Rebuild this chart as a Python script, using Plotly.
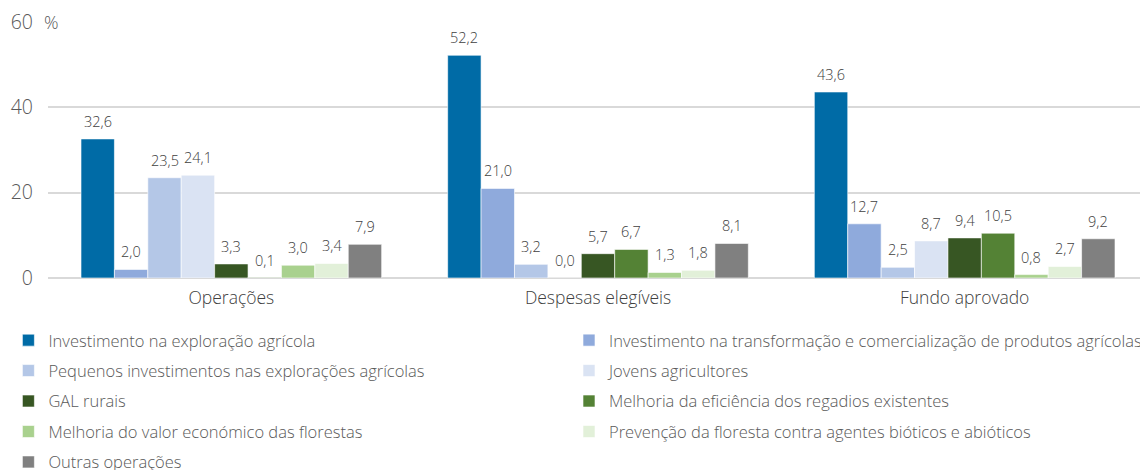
import plotly.graph_objects as go

categories = ["Operações", "Despesas elegíveis", "Fundo aprovado"]
series_names = [
    "Investimento na exploração agrícola",
    "Investimento na transformação e comercialização de produtos agrícolas",
    "Pequenos investimentos nas explorações agrícolas",
    "Jovens agricultores",
    "GAL rurais",
    "Melhoria da eficiência dos regadios existentes",
    "Melhoria do valor económico das florestas",
    "Prevenção da floresta contra agentes bióticos e abióticos",
    "Outras operações",
]
values = [
    [32.6, 52.2, 43.6],
    [2.0, 21.0, 12.7],
    [23.5, 3.2, 2.5],
    [24.1, 0.0, 8.7],
    [3.3, 5.7, 9.4],
    [0.1, 6.7, 10.5],
    [3.0, 1.3, 0.8],
    [3.4, 1.8, 2.7],
    [7.9, 8.1, 9.2],
]
colors = ["#006BA6", "#8FAADC", "#B4C7E7", "#DAE3F3", "#375623",
          "#548235", "#A9D18E", "#E2F0D9", "#808080"]
y_tickvals = [0, 20, 40, 60]
y_ticktext = ["0", "20", "40", "60"]

FONT = "Open Sans"
WEIGHT = 300
BARGAP = 0.18
LEG_SIZE = 16.5
n = len(series_names)

fig = go.Figure()
for i, (name, vals, col) in enumerate(zip(series_names, values, colors)):
    fig.add_trace(go.Bar(
        name=name, x=categories, y=vals,
        marker=dict(color=col, line=dict(color="rgba(255,255,255,0.6)", width=1)),
        legend="legend" if i % 2 == 0 else "legend2",
        legendgroup=f"g{i}",
        hoverinfo="skip",
    ))

annotations = []
bw = (1 - BARGAP) / n
for i, vals in enumerate(values):
    for c, v in enumerate(vals):
        annotations.append(dict(
            x=c + (i - (n - 1) / 2) * bw, y=v, xref="x", yref="y",
            text=f"{v:.1f}".replace(".", ","), showarrow=False,
            yanchor="bottom", yshift=6,
            font=dict(family=FONT, size=14.5, color="#404040", weight=WEIGHT),
        ))
annotations.append(dict(
    x=0, y=60, xref="paper", yref="y", text="%", showarrow=False,
    xanchor="left", yanchor="middle", xshift=-6, width=21, align="left",
    bgcolor="white", font=dict(family=FONT, size=18, color="#595959", weight=WEIGHT),
))

leg_common = dict(
    orientation="v", y=-0.1754, yanchor="top", xanchor="left",
    itemwidth=30, tracegroupgap=6,
    font=dict(family=FONT, size=LEG_SIZE, color="#595959", weight=WEIGHT),
    bgcolor="rgba(0,0,0,0)",
)

fig.update_layout(
    width=1140, height=462,
    margin=dict(l=40, r=0, t=14, b=192, autoexpand=False),
    paper_bgcolor="white", plot_bgcolor="white",
    barmode="group", bargap=BARGAP, bargroupgap=0,
    annotations=annotations,
    xaxis=dict(showgrid=False, showline=False, ticks="", ticklabelstandoff=7,
               tickfont=dict(family=FONT, size=17.5, color="#404040", weight=WEIGHT)),
    yaxis=dict(range=[0, 60], tickvals=y_tickvals, ticktext=y_ticktext,
               showgrid=True, gridcolor="#D9D9D9", gridwidth=1.5,
               zeroline=True, zerolinecolor="#D9D9D9", zerolinewidth=1.5,
               showline=False, ticks="", ticklabelstandoff=14,
               ticklabeloverflow="allow",
               tickfont=dict(family=FONT, size=19.5, color="#595959", weight=WEIGHT)),
    legend=dict(x=-0.036, **leg_common),
    legend2=dict(x=(569 - 48) / 1100, **leg_common),
)

fig.write_html("out.html")
